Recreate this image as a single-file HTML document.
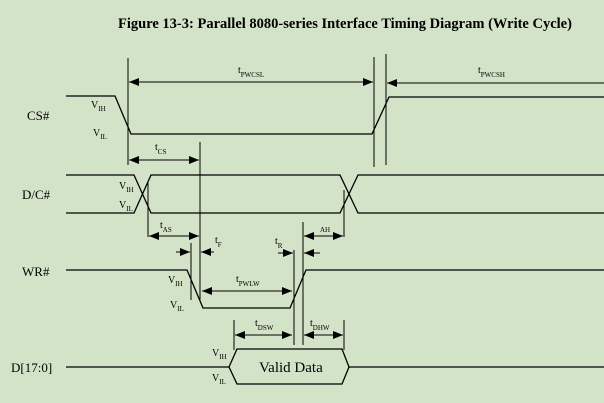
<!DOCTYPE html>
<html><head><style>
html,body{margin:0;padding:0;background:#d3e3c8;}
svg{display:block;font-family:"Liberation Serif",serif;}
</style></head><body>
<svg width="604" height="403" viewBox="0 0 604 403">
<defs>
<marker id="a" markerWidth="10" markerHeight="8" refX="10" refY="4" orient="auto" markerUnits="userSpaceOnUse"><path d="M0,0L10,4L0,8z" fill="#000"/></marker>
<marker id="b" markerWidth="10" markerHeight="8" refX="0" refY="4" orient="auto" markerUnits="userSpaceOnUse"><path d="M10,0L0,4L10,8z" fill="#000"/></marker>
</defs>
<rect width="604" height="403" fill="#d3e3c8"/>
<text x="118" y="28" font-size="14.5" font-weight="bold">Figure 13-3: Parallel 8080-series Interface Timing Diagram (Write Cycle)</text>
<g stroke="#000" stroke-width="1.3" fill="none">
<!-- CS -->
<polyline points="66,96 115,96 131,134 372,134 389,97 604,97"/>
<line x1="128" y1="58" x2="128" y2="165" stroke-width="1"/>
<line x1="374" y1="57" x2="374" y2="167" stroke-width="1"/>
<line x1="386" y1="54" x2="386" y2="165" stroke-width="1"/>
<line x1="129" y1="82" x2="373" y2="82" marker-start="url(#b)" marker-end="url(#a)" stroke-width="1"/>
<line x1="387" y1="83" x2="604" y2="83" marker-start="url(#b)" stroke-width="1"/>
<line x1="129" y1="160" x2="199" y2="160" marker-start="url(#b)" marker-end="url(#a)" stroke-width="1"/>
<line x1="200" y1="142" x2="200" y2="300" stroke-width="1"/>
<!-- DC -->
<polyline points="66,175 134,175 151,213 340,213 358,175 604,175"/>
<polyline points="66,213 134,213 151,175 340,175 358,213 604,213"/>
<line x1="148" y1="183" x2="148" y2="237" stroke-width="1"/>
<line x1="344" y1="190" x2="344" y2="237" stroke-width="1"/>
<line x1="149" y1="236" x2="199" y2="236" marker-start="url(#b)" marker-end="url(#a)" stroke-width="1"/>
<line x1="304" y1="236" x2="343" y2="236" marker-start="url(#b)" marker-end="url(#a)" stroke-width="1"/>
<line x1="303" y1="222" x2="303" y2="345" stroke-width="1"/>
<!-- WR -->
<polyline points="66,270 187,270 203,308 290,308 306,270 604,270"/>
<line x1="191" y1="243" x2="191" y2="300" stroke-width="1"/>
<line x1="176" y1="252" x2="190" y2="252" marker-end="url(#a)" stroke-width="1"/>
<line x1="214" y1="252" x2="201" y2="252" marker-end="url(#a)" stroke-width="1"/>
<line x1="294" y1="250" x2="294" y2="345" stroke-width="1"/>
<line x1="278" y1="253" x2="293" y2="253" marker-end="url(#a)" stroke-width="1"/>
<line x1="320" y1="253" x2="304" y2="253" marker-end="url(#a)" stroke-width="1"/>
<line x1="202" y1="291" x2="292" y2="291" marker-start="url(#b)" marker-end="url(#a)" stroke-width="1"/>
<!-- Data -->
<polyline points="66,367 229,367 237,349 342,349 349,367 604,367"/>
<polyline points="229,367 237,384 342,384 349,367"/>
<line x1="234" y1="320" x2="234" y2="350" stroke-width="1"/>
<line x1="344" y1="320" x2="344" y2="350" stroke-width="1"/>
<line x1="235" y1="335" x2="292" y2="335" marker-start="url(#b)" marker-end="url(#a)" stroke-width="1"/>
<line x1="304" y1="335" x2="343" y2="335" marker-start="url(#b)" marker-end="url(#a)" stroke-width="1"/>
</g>
<g font-size="13">
<text x="27" y="120">CS#</text>
<text x="22" y="199">D/C#</text>
<text x="22" y="276">WR#</text>
<text x="11" y="372">D[17:0]</text>
<text x="259" y="372" font-size="15">Valid Data</text>
</g>
<g font-size="10">
<text x="91" y="108">V<tspan font-size="7" dy="3">IH</tspan></text>
<text x="93" y="136">V<tspan font-size="7" dy="3">IL</tspan></text>
<text x="119" y="189">V<tspan font-size="7" dy="3">IH</tspan></text>
<text x="119" y="208">V<tspan font-size="7" dy="3">IL</tspan></text>
<text x="168" y="283">V<tspan font-size="7" dy="3">IH</tspan></text>
<text x="170" y="308">V<tspan font-size="7" dy="3">IL</tspan></text>
<text x="212" y="356">V<tspan font-size="7" dy="3">IH</tspan></text>
<text x="212" y="381">V<tspan font-size="7" dy="3">IL</tspan></text>
<text x="238" y="73">t<tspan font-size="7" dy="4">PWCSL</tspan></text>
<text x="478" y="73">t<tspan font-size="7" dy="4">PWCSH</tspan></text>
<text x="155" y="150">t<tspan font-size="7" dy="4">CS</tspan></text>
<text x="160" y="228">t<tspan font-size="7" dy="4">AS</tspan></text>
<text x="320" y="232" font-size="7">AH</text>
<text x="215" y="243">t<tspan font-size="7" dy="4">F</tspan></text>
<text x="275" y="244">t<tspan font-size="7" dy="4">R</tspan></text>
<text x="236" y="282">t<tspan font-size="7" dy="4">PWLW</tspan></text>
<text x="255" y="326">t<tspan font-size="7" dy="4">DSW</tspan></text>
<text x="310" y="326">t<tspan font-size="7" dy="4">DHW</tspan></text>
</g>
</svg>
</body></html>
